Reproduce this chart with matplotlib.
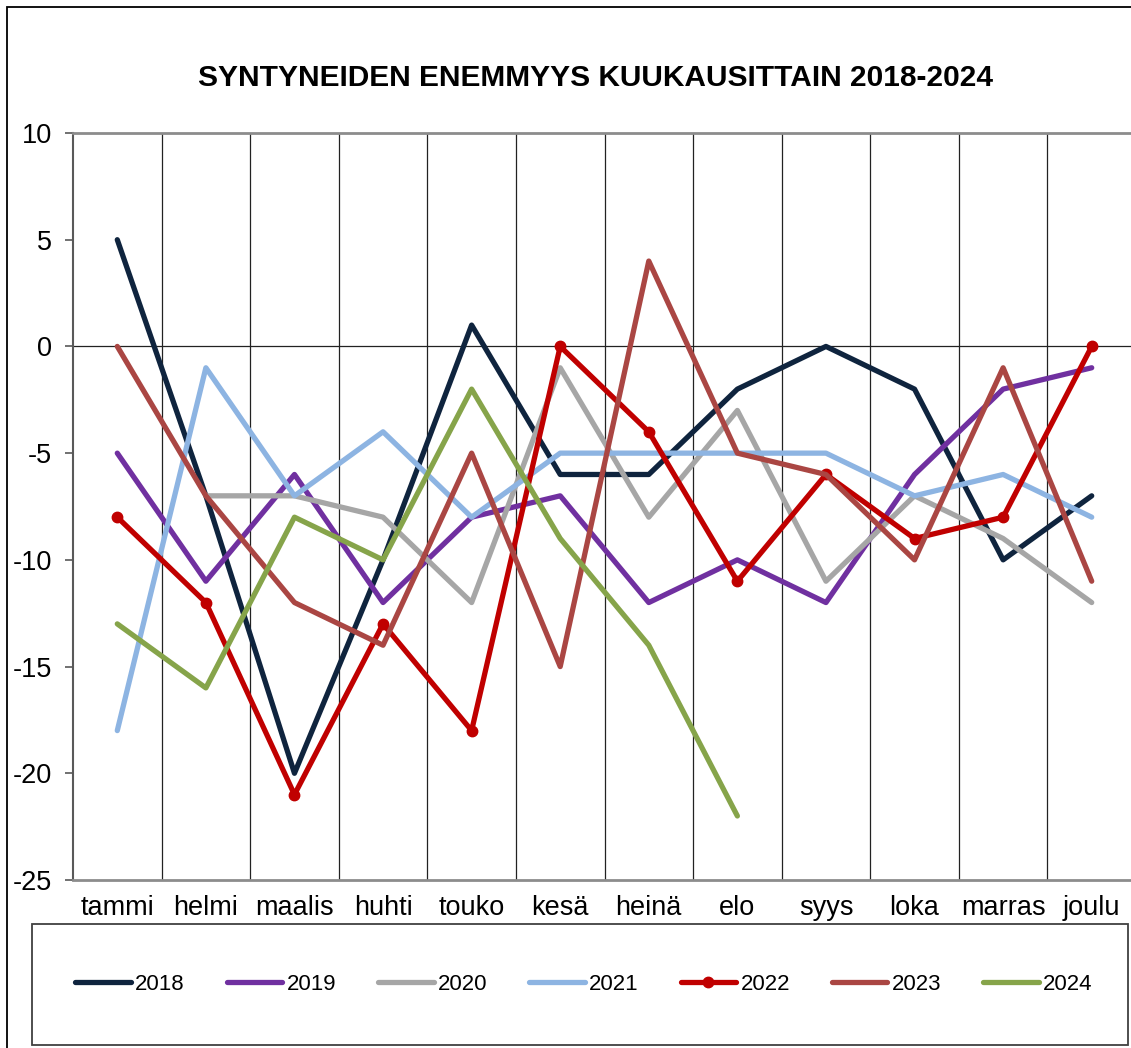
#!/usr/bin/env python3
"""Line chart: syntyneiden enemmyys kuukausittain 2018-2024."""

import matplotlib

matplotlib.use("Agg")
import matplotlib.pyplot as plt
from matplotlib.patches import Rectangle
import numpy as np

nan = float("nan")

MONTHS = ["tammi", "helmi", "maalis", "huhti", "touko", "kesä",
          "heinä", "elo", "syys", "loka", "marras", "joulu"]
YEARS = ["2018", "2019", "2020", "2021", "2022", "2023", "2024"]

VALUES_2018 = [5, -7, -20, -10, 1, -6, -6, -2, 0, -2, -10, -7]
VALUES_2019 = [-5, -11, -6, -12, -8, -7, -12, -10, -12, -6, -2, -1]
VALUES_2020 = [nan, -7, -7, -8, -12, -1, -8, -3, -11, -7, -9, -12]
VALUES_2021 = [-18, -1, -7, -4, -8, -5, -5, -5, -5, -7, -6, -8]
VALUES_2022 = [-8, -12, -21, -13, -18, 0, -4, -11, -6, -9, -8, 0]
VALUES_2023 = [0, -7, -12, -14, -5, -15, 4, -5, -6, -10, -1, -11]
VALUES_2024 = [-13, -16, -8, -10, -2, -9, -14, -22, nan, nan, nan, nan]

SERIES = [VALUES_2018, VALUES_2019, VALUES_2020, VALUES_2021,
          VALUES_2022, VALUES_2023, VALUES_2024]
COLORS = ["#0F243E", "#7030A0", "#A6A6A6", "#8DB4E2",
          "#C00000", "#AA4643", "#86A44A"]
MARKERS = [None, None, None, None, "o", None, None]

Y_TICKS = [10, 5, 0, -5, -10, -15, -20, -25]
TITLE = "SYNTYNEIDEN ENEMMYYS KUUKAUSITTAIN 2018-2024"

W, H = 1131, 1048


def px_box(x0, y0, x1, y1):
    """Pixel box (top-left origin) -> figure fraction [left, bottom, w, h]."""
    return [x0 / W, 1 - y1 / H, (x1 - x0) / W, (y1 - y0) / H]


def main():
    plt.rcParams["font.family"] = ["Liberation Sans", "DejaVu Sans"]
    fig = plt.figure(figsize=(W / 100, H / 100), dpi=100)

    # outer chart frame and legend frame
    l, b, w, h = px_box(7, 7, 1145, 1065)
    fig.patches.append(Rectangle((l, b), w, h, transform=fig.transFigure,
                                 fill=False, edgecolor="black", linewidth=1.3))
    l, b, w, h = px_box(32, 924, 1128, 1045)
    fig.patches.append(Rectangle((l, b), w, h, transform=fig.transFigure,
                                 fill=False, edgecolor="#404040", linewidth=1.3))

    ax = fig.add_axes(px_box(73, 133, 1136, 880))
    x = np.arange(len(MONTHS))

    for xv in np.arange(0.5, len(MONTHS) - 1, 1.0):
        ax.axvline(xv, color="#222222", linewidth=0.9, zorder=1)
    ax.axhline(0, color="#222222", linewidth=0.9, zorder=1)

    for year, values, color, marker in zip(YEARS, SERIES, COLORS, MARKERS):
        ax.plot(x, values, color=color, linewidth=3.8, label=year,
                marker=marker, markersize=7.5,
                solid_capstyle="round", solid_joinstyle="round", zorder=3)

    ax.set_xlim(-0.5, len(MONTHS) - 0.5)
    ax.set_ylim(-25, 10)
    ax.set_yticks(Y_TICKS)
    ax.set_yticklabels([str(v) for v in Y_TICKS], fontsize=19.5)
    ax.set_xticks(x)
    ax.set_xticklabels(MONTHS, fontsize=19.5)
    ax.tick_params(axis="x", length=0, pad=11)
    ax.tick_params(axis="y", length=5.5, width=1.2, color="#595959",
                   direction="out", pad=9.5)

    ax.spines["right"].set_visible(False)
    ax.spines["top"].set_color("#8C8C8C")
    ax.spines["top"].set_linewidth(2)
    ax.spines["bottom"].set_color("#8C8C8C")
    ax.spines["bottom"].set_linewidth(2)
    ax.spines["left"].set_color("#595959")
    ax.spines["left"].set_linewidth(1.5)

    fig.text(595 / W, 1 - 78 / H, TITLE, ha="center", va="center",
             fontsize=21.5, fontweight="bold")

    handles, labels = ax.get_legend_handles_labels()
    fig.legend(handles, labels, loc="center", ncol=len(YEARS),
               bbox_to_anchor=(584 / W, 1 - 984 / H), frameon=False,
               fontsize=16, handlelength=2.5, handletextpad=0.2,
               columnspacing=1.88)

    fig.savefig("out.png", dpi=100)
    plt.close(fig)


if __name__ == "__main__":
    main()
